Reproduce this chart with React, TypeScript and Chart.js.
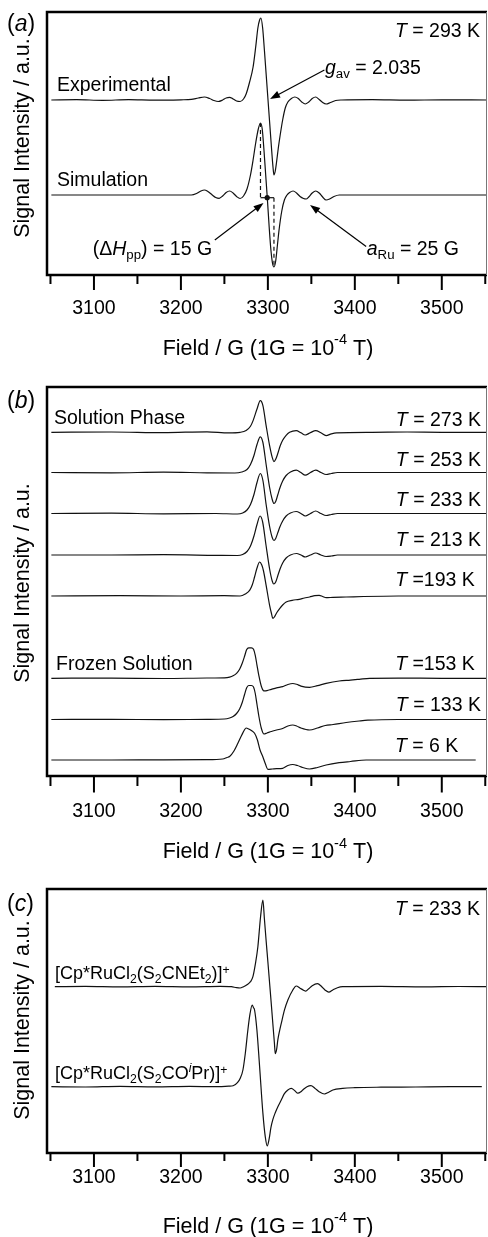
import React, { useEffect, useRef } from 'react';
import { Chart, registerables } from 'chart.js';

Chart.register(...registerables);

type Pt = [number, number];

const FONT = "'Liberation Sans', Arial, Helvetica, sans-serif";

// ---- shared field axis (Gauss) ----
const FIELD_RANGE: Pt = [3046, 3552];
const FIELD_TICKS = [3050, 3100, 3150, 3200, 3250, 3300, 3350, 3400, 3450, 3500, 3550];
const FIELD_TICK_LABELS = ['', '3100', '', '3200', '', '3300', '', '3400', '', '3500', ''];
const X_TITLE = 'Field / G (1G = 10';
const Y_TITLE = 'Signal Intensity / a.u.';

// ---- panel (a): T = 293 K ----
const A_EXPERIMENTAL: Pt[] = [
  [3051, 0], [3080, 0.3], [3110, -0.3], [3140, 0.3], [3170, -0.2], [3200, 0.2], [3212, 0.6], [3220, 2],
  [3227, 3], [3233, 1.5], [3238, -0.5], [3243, -1.5], [3248, 0], [3252, 2], [3256, 2.7], [3260, 1],
  [3264, -1], [3268, -1.5], [3272, 1], [3275, 6], [3279, 18], [3283, 33], [3286, 53], [3288.5, 72],
  [3290.5, 80], [3292, 82], [3294, 72], [3296, 50], [3298, 26], [3300, 2], [3302, -22], [3304, -46],
  [3306, -68], [3307, -75], [3308.5, -71], [3310, -62], [3312, -48], [3314, -36], [3317, -20], [3320, -8],
  [3323, -2], [3327, 1.5], [3331, 3], [3335, 1.5], [3339, -2], [3343, -4], [3347, -2], [3351, 1.5],
  [3355, 3], [3359, 0.5], [3363, -2.5], [3367, -4], [3372, -2.5], [3378, -0.5], [3385, 0], [3420, 0.3],
  [3460, -0.2], [3500, 0.2], [3552, 0],
];
const A_SIMULATION: Pt[] = [
  [3051, 0], [3150, 0], [3212, 0], [3218, 1.5], [3223, 4], [3227, 5], [3231, 3.5], [3236, 0],
  [3240, -2.5], [3244, -3.3], [3248, -1], [3252, 2.5], [3256, 4], [3260, 2], [3264, -1.5], [3268, -3.5],
  [3272, -1], [3276, 6], [3280, 20], [3283, 35], [3286, 52], [3289, 66], [3291.5, 72], [3293.5, 66],
  [3295.5, 45], [3297.5, 20], [3299.5, -5], [3301.5, -32], [3303.5, -55], [3305.5, -69], [3307, -72],
  [3309, -66], [3311, -50], [3313, -34], [3316, -16], [3319, -5], [3322, 0], [3325, 2.5], [3329, 4],
  [3333, 2], [3337, -1.5], [3341, -3.5], [3344, -4], [3347, -2], [3351, 2], [3355, 4], [3359, 2],
  [3363, -2], [3367, -5], [3371, -4], [3376, -1.5], [3382, 0], [3450, 0], [3552, 0],
];
const A_OFFSETS = [175, 80];
const A_Y_MAX = 263;

// ---- panel (b): variable temperature ----
const B_273K: Pt[] = [
  [3051, 0], [3120, 0.3], [3180, -0.3], [3230, 0.5], [3255, -0.5], [3268, 0], [3275, 1.7], [3280, 6],
  [3283, 11.7], [3287.4, 23], [3291.3, 31.7], [3294.3, 26.7], [3298, 6.7], [3302, -13.3], [3305, -25],
  [3307, -29.3], [3309, -27], [3311.5, -21], [3314, -14], [3317, -8], [3321, -3], [3325, 0],
  [3332.6, 1.7], [3338, -0.5], [3343, -2.7], [3349, -0.3], [3355, 1.7], [3361, -0.5], [3367, -3.3],
  [3373, -1.5], [3379, -0.5], [3420, 0], [3460, 0.3], [3500, 0], [3552, 0],
];
const B_253K: Pt[] = [
  [3051, 0], [3120, -0.3], [3180, 0.3], [3230, -0.3], [3262, -0.5], [3270, 0.5], [3276, 3], [3280, 8],
  [3284, 17], [3287.5, 28], [3291.3, 35.7], [3294.3, 30], [3298, 8], [3302, -15], [3305, -27],
  [3307, -31], [3309, -29], [3311.5, -22], [3314, -15], [3317, -8.5], [3321, -3], [3326, 0.5],
  [3332.6, 2.3], [3338, 0], [3343, -2.7], [3349, 0], [3355, 2.3], [3361, 0], [3367, -2], [3373, -1],
  [3380, 0], [3552, 0],
];
const B_233K: Pt[] = [
  [3051, 0], [3120, 0.3], [3180, -0.3], [3240, 0], [3265, -0.5], [3271, 0.5], [3276, 3.5], [3280, 9],
  [3284, 19], [3287.5, 31], [3291.3, 40], [3294.3, 33], [3298, 9], [3302, -13], [3305, -24], [3307, -27],
  [3309, -25], [3311.5, -19], [3314, -13], [3317, -7.5], [3321, -2.5], [3326, 0.5], [3332.6, 2],
  [3338, 0], [3343, -2.5], [3349, 0], [3355, 2.5], [3361, 0], [3367, -2], [3373, -1], [3380, 0], [3552, 0],
];
const B_213K: Pt[] = [
  [3051, 0], [3120, 0], [3180, 0.3], [3240, -0.3], [3265, -0.5], [3271, 0.5], [3276, 3.5], [3280, 9],
  [3284, 19], [3287.5, 30.5], [3291, 39], [3294, 33], [3298, 9], [3302, -14], [3305, -26], [3306.8, -29],
  [3309, -27], [3311.5, -20.5], [3314, -14], [3317, -8], [3321, -3], [3326, 0], [3333, 1.5], [3338, 0],
  [3343, -2], [3349, 0], [3355, 2], [3361, 0], [3367, -1.5], [3373, -1], [3380, 0], [3552, 0],
];
const B_193K: Pt[] = [
  [3051, 0], [3130, 0.3], [3200, 0], [3250, 0.3], [3268, 0], [3274, 2], [3279, 5.7], [3282, 11],
  [3284.7, 19], [3287.5, 28], [3290.5, 34], [3293, 31], [3295, 25], [3298, 10.7], [3302, -9.3],
  [3304, -17], [3305.7, -22.3], [3307.5, -21], [3310, -17], [3313.5, -12.7], [3317, -9], [3321, -6],
  [3328, -4.3], [3336, -3.3], [3342, -2], [3348, -1], [3354, 0.3], [3359, 0.7], [3363, -0.5],
  [3367, -1.7], [3375, -1.3], [3390, -1], [3410, -0.5], [3450, 0], [3552, 0],
];
const B_153K: Pt[] = [
  [3051, 0], [3120, 0.2], [3180, -0.2], [3230, 0.3], [3250, 0.5], [3256, 1.2], [3260, 2.5], [3264, 5],
  [3267.5, 9], [3270.5, 15], [3273.2, 22], [3275.5, 28.5], [3278, 30.5], [3281, 30.5], [3283.5, 29],
  [3285.5, 23], [3287.5, 13], [3289.7, 2.5], [3292.4, -7.7], [3295.4, -12.5], [3299, -12.3],
  [3304, -11], [3310, -9.5], [3317, -8.3], [3323, -6.2], [3328.7, -5.2], [3333, -6], [3338, -7.8],
  [3348, -9], [3357, -7.3], [3367, -5], [3382, -2.7], [3395, -1.8], [3405, -1], [3417, 0], [3450, 0.2],
  [3500, 0], [3552, 0],
];
const B_133K: Pt[] = [
  [3051, 0], [3120, 0.2], [3180, -0.2], [3230, 0.2], [3250, 0.5], [3256, 1.5], [3260, 3], [3264, 6],
  [3267.5, 10.5], [3270.5, 17], [3273.2, 25], [3275.5, 31.5], [3278, 34], [3281, 34], [3283.5, 32.5],
  [3285.5, 26], [3287.5, 15], [3289.7, 3], [3292.4, -8.5], [3295.5, -14.5], [3299, -13.5], [3304, -12],
  [3310, -10.5], [3317, -9], [3323, -6.5], [3328.7, -5.5], [3333, -6.5], [3338, -8.5], [3348, -10.5],
  [3357, -8.5], [3366, -6], [3375, -5], [3390, -3], [3405, -1.5], [3415, -0.7], [3450, 0], [3552, 0],
];
const B_6K: Pt[] = [
  [3051, 0], [3120, 0], [3180, 0.2], [3230, 0.3], [3248, 1], [3253, 2.5], [3256, 3.5], [3261, 9],
  [3265.5, 16.7], [3270, 25], [3273, 30], [3275, 32], [3278, 31], [3281, 29.5], [3284.7, 26.7],
  [3288, 20], [3291, 10], [3294.3, 3], [3297, -3.5], [3300, -9.3], [3305, -9], [3310, -8.6], [3317, -8.3],
  [3323, -5.5], [3328.7, -4.5], [3334, -5.5], [3340, -7.5], [3348, -9], [3357, -7.5], [3367, -5],
  [3382, -2.7], [3395, -1.5], [3413, 0], [3480, 0], [3539, 0],
];
const B_TEMPERATURES = ['273', '253', '233', '213', '193', '153', '133', '6'];
const B_OFFSETS = [343.7, 303.5, 262.5, 221, 180, 97.7, 56.5, 16];
const B_Y_MAX = 389;

// ---- panel (c): two complexes at 233 K ----
const C_DTC: Pt[] = [
  [3055, 0], [3090, 0.3], [3130, -0.2], [3170, 0.3], [3210, -0.2], [3245, 0.3], [3258, 0], [3264, -1],
  [3268, -1.3], [3272, 0], [3276, 2], [3280, 5], [3282.8, 10], [3285.5, 22], [3288.5, 40], [3291.6, 70],
  [3294.3, 86.5], [3296, 68], [3298, 46], [3300, 25], [3302, 3.5], [3304, -18], [3306, -40],
  [3307.5, -56], [3308.5, -67], [3310, -63], [3311.5, -53], [3313.5, -44], [3315.4, -36.7],
  [3319.2, -23], [3323, -13.3], [3328.7, -3.3], [3332.6, 0.7], [3337, -1.5], [3341, -3.5],
  [3343.5, -4.5], [3347, -2], [3351, 1], [3357, 3], [3362, 0], [3366, -3.5], [3370, -5.5], [3375, -3],
  [3380, -1], [3386, 0], [3430, 0.3], [3480, -0.2], [3520, 0.2], [3552, 0],
];
const C_XAN: Pt[] = [
  [3051, 0], [3090, -0.3], [3130, 0.3], [3170, -0.2], [3210, 0.3], [3240, 0], [3255, 0.5], [3260, 1],
  [3265, 4], [3268.5, 9], [3271.3, 16.7], [3274, 33], [3277, 56.7], [3279.5, 73], [3282, 81.7],
  [3283.5, 79], [3284.7, 76.7], [3287.4, 56.7], [3290.5, 20], [3294.3, -26.7], [3297, -50],
  [3299.3, -59.3], [3301.5, -52], [3303.5, -41], [3305.7, -33], [3308.5, -26], [3311.5, -20],
  [3315.4, -13.3], [3319, -7], [3323, -3.3], [3327, -1.7], [3331, -4], [3334.5, -6.5], [3338, -5],
  [3341, -2.5], [3345, 0], [3349.5, 1], [3354, -1.5], [3359, -5], [3365, -7.3], [3370, -5.5],
  [3374.7, -3.3], [3386, -1.7], [3400, -1], [3430, -0.5], [3470, -0.3], [3510, 0], [3546, 0],
];
const C_OFFSETS = [166.3, 66.3];
const C_Y_MAX = 264;

// ---- drawing helpers ----
type Seg = { t: string; it?: boolean; sub?: boolean; sup?: boolean; rise?: number };
type TextItem = { at: Pt; align: 'left' | 'right' | 'center'; size?: number; segs: Seg[] };
type Arrow = { from: Pt; to: Pt };

function drawRich(ctx: CanvasRenderingContext2D, segs: Seg[], x: number, y: number, align: string, size: number) {
  const parts = segs.map((s) => {
    const small = s.sub || s.sup;
    const fs = small ? size * 0.68 : size;
    const font = `${s.it ? 'italic ' : ''}${fs}px ${FONT}`;
    ctx.font = font;
    const dy = s.sub ? size * 0.2 : s.sup ? -size * (s.rise ?? 0.42) : 0;
    return { s, font, w: ctx.measureText(s.t).width, dy };
  });
  const total = parts.reduce((a, p) => a + p.w, 0);
  let cx = align === 'right' ? x - total : align === 'center' ? x - total / 2 : x;
  ctx.textAlign = 'left';
  ctx.textBaseline = 'alphabetic';
  for (const p of parts) {
    ctx.font = p.font;
    ctx.fillText(p.s.t, cx, y + p.dy);
    cx += p.w;
  }
}

function drawArrow(ctx: CanvasRenderingContext2D, x1: number, y1: number, x2: number, y2: number) {
  const a = Math.atan2(y2 - y1, x2 - x1);
  const L = 10;
  const W = 3.6;
  ctx.beginPath();
  ctx.moveTo(x1, y1);
  ctx.lineTo(x2 - (L - 2) * Math.cos(a), y2 - (L - 2) * Math.sin(a));
  ctx.stroke();
  ctx.beginPath();
  ctx.moveTo(x2, y2);
  ctx.lineTo(x2 - L * Math.cos(a) + W * Math.sin(a), y2 - L * Math.sin(a) - W * Math.cos(a));
  ctx.lineTo(x2 - L * Math.cos(a) - W * Math.sin(a), y2 - L * Math.sin(a) + W * Math.cos(a));
  ctx.closePath();
  ctx.fill();
}

type Series = { data: Pt[]; offset: number };
type PanelCfg = {
  top: number;
  height: number;
  padTop: number;
  padBottom: number;
  yMax: number;
  series: Series[];
  letter: string;
  letterDy: number;
  yTitleDy: number;
  tickLabelDy: number;
  titleDy: number;
  majorLen: number;
  minorLen: number;
  texts: TextItem[];
  arrows: Arrow[];
  extra?: (ctx: CanvasRenderingContext2D, X: (v: number) => number, Y: (v: number) => number) => void;
};

const T = (rest: string): Seg[] => [{ t: 'T', it: true }, { t: rest }];

// dashed ΔHpp construction on the simulated spectrum (panel a)
function simExtremes() {
  let pk = A_SIMULATION[0];
  let tr = A_SIMULATION[0];
  for (const p of A_SIMULATION) {
    if (p[1] > pk[1]) pk = p;
    if (p[1] < tr[1]) tr = p;
  }
  return { pk, tr };
}

const PANELS: PanelCfg[] = [
  {
    top: 0, height: 362, padTop: 12, padBottom: 87, yMax: A_Y_MAX,
    series: [
      { data: A_EXPERIMENTAL, offset: A_OFFSETS[0] },
      { data: A_SIMULATION, offset: A_OFFSETS[1] },
    ],
    letter: 'a', letterDy: 19, yTitleDy: 126, tickLabelDy: 38.5, titleDy: 80, majorLen: 15, minorLen: 9,
    texts: [
      { at: [3544, 238.3], align: 'right', segs: T(' = 293 K') },
      { at: [3057.5, 184.3], align: 'left', segs: [{ t: 'Experimental' }] },
      { at: [3365.7, 201], align: 'left', segs: [{ t: 'g', it: true }, { t: 'av', sub: true }, { t: ' = 2.035' }] },
      { at: [3057.5, 89.3], align: 'left', segs: [{ t: 'Simulation' }] },
      { at: [3098.6, 20], align: 'left', segs: [{ t: '(Δ' }, { t: 'H', it: true }, { t: 'pp', sub: true }, { t: ') = 15 G' }] },
      { at: [3413.7, 20], align: 'left', segs: [{ t: 'a', it: true }, { t: 'Ru', sub: true }, { t: ' = 25 G' }] },
    ],
    arrows: [
      { from: [3365, 205], to: [3302.5, 176] },
      { from: [3239, 35], to: [3295, 72] },
      { from: [3413, 28.5], to: [3348.5, 70] },
    ],
    extra: (ctx, X, Y) => {
      const { pk, tr } = simExtremes();
      const base = A_OFFSETS[1] - 2.7;
      ctx.save();
      ctx.strokeStyle = '#111';
      ctx.lineWidth = 1.2;
      ctx.setLineDash([4, 3]);
      ctx.beginPath();
      ctx.moveTo(X(pk[0]), Y(pk[1] + A_OFFSETS[1]));
      ctx.lineTo(X(pk[0]), Y(base));
      ctx.moveTo(X(tr[0]), Y(base));
      ctx.lineTo(X(tr[0]), Y(tr[1] + A_OFFSETS[1]));
      ctx.stroke();
      ctx.setLineDash([]);
      ctx.beginPath();
      ctx.moveTo(X(pk[0]), Y(base));
      ctx.lineTo(X(tr[0]), Y(base));
      ctx.stroke();
      ctx.beginPath();
      ctx.arc(X((pk[0] + tr[0]) / 2), Y(base), 2.6, 0, Math.PI * 2);
      ctx.fillStyle = '#111';
      ctx.fill();
      ctx.restore();
    },
  },
  {
    top: 362, height: 504, padTop: 25, padBottom: 90, yMax: B_Y_MAX,
    series: [B_273K, B_253K, B_233K, B_213K, B_193K, B_153K, B_133K, B_6K].map((d, i) => ({ data: d, offset: B_OFFSETS[i] })),
    letter: 'b', letterDy: 20.5, yTitleDy: 196, tickLabelDy: 40.7, titleDy: 82.3, majorLen: 16.5, minorLen: 10,
    texts: [
      { at: [3054, 352], align: 'left', segs: [{ t: 'Solution Phase' }] },
      { at: [3545, 350.3], align: 'right', segs: T(` = ${B_TEMPERATURES[0]} K`) },
      { at: [3545, 310.3], align: 'right', segs: T(` = ${B_TEMPERATURES[1]} K`) },
      { at: [3545, 270.3], align: 'right', segs: T(` = ${B_TEMPERATURES[2]} K`) },
      { at: [3545, 230], align: 'right', segs: T(` = ${B_TEMPERATURES[3]} K`) },
      { at: [3538, 190.3], align: 'right', segs: T(` =${B_TEMPERATURES[4]} K`) },
      { at: [3056.4, 106], align: 'left', segs: [{ t: 'Frozen Solution' }] },
      { at: [3538, 106], align: 'right', segs: T(` =${B_TEMPERATURES[5]} K`) },
      { at: [3545, 65.3], align: 'right', segs: T(` = ${B_TEMPERATURES[6]} K`) },
      { at: [3519, 23.7], align: 'right', segs: T(` = ${B_TEMPERATURES[7]} K`) },
    ],
    arrows: [],
  },
  {
    top: 866, height: 371, padTop: 23, padBottom: 84, yMax: C_Y_MAX,
    series: [
      { data: C_DTC, offset: C_OFFSETS[0] },
      { data: C_XAN, offset: C_OFFSETS[1] },
    ],
    letter: 'c', letterDy: 22, yTitleDy: 131, tickLabelDy: 30.3, titleDy: 80, majorLen: 14, minorLen: 8,
    texts: [
      { at: [3544, 238], align: 'right', segs: T(' = 233 K') },
      {
        at: [3055.2, 173.7], align: 'left', size: 18,
        segs: [{ t: '[Cp*RuCl' }, { t: '2', sub: true }, { t: '(S' }, { t: '2', sub: true }, { t: 'CNEt' }, { t: '2', sub: true }, { t: ')]' }, { t: '+', sup: true, rise: 0.3 }],
      },
      {
        at: [3055.2, 73.7], align: 'left', size: 18,
        segs: [{ t: '[Cp*RuCl' }, { t: '2', sub: true }, { t: '(S' }, { t: '2', sub: true }, { t: 'CO' }, { t: 'i', sup: true, it: true, rise: 0.38 }, { t: 'Pr)]' }, { t: '+', sup: true, rise: 0.3 }],
      },
    ],
    arrows: [],
  },
];

function makeDecorPlugin(cfg: PanelCfg) {
  return {
    id: 'decor',
    afterDraw(chart: any) {
      const ctx: CanvasRenderingContext2D = chart.ctx;
      const xs = chart.scales.x;
      const ys = chart.scales.y;
      const ca = chart.chartArea;
      const X = (v: number) => xs.getPixelForValue(v);
      const Y = (v: number) => ys.getPixelForValue(v);
      ctx.save();
      ctx.fillStyle = '#000';
      ctx.strokeStyle = '#000';

      // frame
      ctx.lineWidth = 2.5;
      ctx.beginPath();
      ctx.moveTo(ca.right, ca.top);
      ctx.lineTo(ca.left, ca.top);
      ctx.lineTo(ca.left, ca.bottom);
      ctx.lineTo(ca.right, ca.bottom);
      ctx.stroke();
      ctx.lineWidth = 1;
      ctx.strokeStyle = '#777';
      ctx.beginPath();
      ctx.moveTo(ca.right - 0.5, ca.top);
      ctx.lineTo(ca.right - 0.5, ca.bottom);
      ctx.stroke();

      // ticks + labels
      ctx.strokeStyle = '#000';
      ctx.lineWidth = 2;
      FIELD_TICKS.forEach((v, i) => {
        const px = X(v);
        const len = FIELD_TICK_LABELS[i] ? cfg.majorLen : cfg.minorLen;
        ctx.beginPath();
        ctx.moveTo(px, ca.bottom);
        ctx.lineTo(px, ca.bottom + len);
        ctx.stroke();
        if (FIELD_TICK_LABELS[i]) {
          ctx.font = `19.5px ${FONT}`;
          ctx.textAlign = 'center';
          ctx.textBaseline = 'alphabetic';
          ctx.fillText(FIELD_TICK_LABELS[i], px, ca.bottom + cfg.tickLabelDy);
        }
      });

      // axis titles
      drawRich(ctx, [{ t: X_TITLE }, { t: '-4', sup: true, rise: 0.5 }, { t: ' T)' }], (ca.left + ca.right) / 2 + 1, ca.bottom + cfg.titleDy, 'center', 21.5);
      ctx.save();
      ctx.translate(29, ca.top + cfg.yTitleDy);
      ctx.rotate(-Math.PI / 2);
      ctx.font = `21.5px ${FONT}`;
      ctx.textAlign = 'center';
      ctx.textBaseline = 'alphabetic';
      ctx.fillText(Y_TITLE, 0, 0);
      ctx.restore();

      // panel letter
      drawRich(ctx, [{ t: '(' }, { t: cfg.letter, it: true }, { t: ')' }], 7, ca.top + cfg.letterDy, 'left', 23);

      // annotations
      for (const t of cfg.texts) {
        drawRich(ctx, t.segs, X(t.at[0]), Y(t.at[1]), t.align, t.size ?? 19.5);
      }
      ctx.lineWidth = 1.2;
      ctx.strokeStyle = '#000';
      for (const a of cfg.arrows) {
        drawArrow(ctx, X(a.from[0]), Y(a.from[1]), X(a.to[0]), Y(a.to[1]));
      }
      if (cfg.extra) cfg.extra(ctx, X, Y);
      ctx.restore();
    },
  };
}

function Panel({ cfg }: { cfg: PanelCfg }) {
  const ref = useRef<HTMLCanvasElement>(null);
  useEffect(() => {
    const canvas = ref.current;
    if (!canvas) return;
    const chart = new Chart(canvas, {
      type: 'line',
      data: {
        datasets: cfg.series.map((s) => ({
          data: s.data.map(([f, v]) => ({ x: f, y: v + s.offset })),
          borderColor: '#111',
          borderWidth: 1.2,
          pointRadius: 0,
          fill: false,
          cubicInterpolationMode: 'monotone' as const,
        })),
      },
      options: {
        animation: false,
        responsive: false,
        maintainAspectRatio: false,
        devicePixelRatio: 1,
        events: [],
        layout: { padding: { left: 47, right: 1, top: cfg.padTop, bottom: cfg.padBottom } },
        plugins: { legend: { display: false }, tooltip: { enabled: false } },
        scales: {
          x: { type: 'linear', min: FIELD_RANGE[0], max: FIELD_RANGE[1], display: false },
          y: { type: 'linear', min: 0, max: cfg.yMax, display: false },
        },
      },
      plugins: [makeDecorPlugin(cfg)],
    });
    return () => chart.destroy();
  }, [cfg]);
  return (
    <canvas
      ref={ref}
      width={488}
      height={cfg.height}
      style={{ position: 'absolute', left: 0, top: cfg.top, width: 488, height: cfg.height, display: 'block' }}
    />
  );
}

export default function App() {
  return (
    <div style={{ position: 'absolute', left: 0, top: 0, width: 488, height: 1237, background: '#fff', overflow: 'hidden' }}>
      {PANELS.map((p, i) => (
        <Panel key={i} cfg={p} />
      ))}
    </div>
  );
}
